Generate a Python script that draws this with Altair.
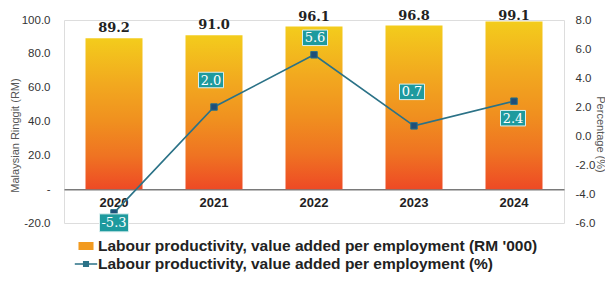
import altair as alt
import pandas as pd

# ---- data ----
years = ["2020", "2021", "2022", "2023", "2024"]
rm_values = [89.2, 91.0, 96.1, 96.8, 99.1]          # RM '000
pct_values = [-5.3, 2.0, 5.6, 0.7, 2.4]             # %
series_bar = "Labour productivity, value added per employment (RM '000)"
series_line = "Labour productivity, value added per employment (%)"

df = pd.DataFrame({
    "year": years,
    "rm": rm_values,
    "pct": pct_values,
})
df["rm_label"] = [f"{v:.1f}" for v in df["rm"]]
df["pct_label"] = [f"{v:.1f}" for v in df["pct"]]

legend_df = pd.DataFrame({"series": [series_bar, series_line]})

# ---- styles ----
SANS = "Liberation Sans"
SERIF = "DejaVu Serif"
TEAL_LINE = "#2B7287"
NAVY = "#1F4E79"
BOX = "#1E9A9E"

# label placement style, per year
box_dy = {"2020": 10, "2021": -27, "2022": -17, "2023": -34, "2024": 17}
box_dx = {"2020": 0, "2021": -3, "2022": 1, "2023": -2, "2024": -1}
top_dy = {"2020": -6, "2021": -6, "2022": -6, "2023": -5.5, "2024": -2}

W, H = 500, 203

x_enc = alt.X(
    "year:N", sort=years,
    scale=alt.Scale(paddingInner=0.43, paddingOuter=0.215),
    axis=alt.Axis(title=None, offset=-33.8, domainColor="#7a7a7a", domainWidth=1.6,
                  ticks=False, labelAngle=0, labelFont=SANS, labelFontSize=13,
                  labelFontWeight="bold", labelColor="#222222", labelPadding=7),
)

yl_enc = alt.Y(
    "rm:Q", scale=alt.Scale(domain=[-20, 100], nice=False, zero=False),
    axis=alt.Axis(title="Malaysian Ringgit (RM)", values=[-20, 0, 20, 40, 60, 80, 100],
                  labelExpr="datum.value == 0 ? '-' : (datum.value < 0 ? '-' : '') + format(abs(datum.value), '.1f')",
                  domain=False, ticks=False, grid=False, labelPadding=14,
                  labelFont=SANS, labelFontSize=11.5, labelColor="#333333",
                  titleFont=SANS, titleFontSize=11, titleFontWeight="normal",
                  titleColor="#555555", titleX=-49, titleY=115,
                  titleAlign="center", titleBaseline="middle", titleAngle=-90),
)

yr_enc = alt.Y(
    "pct:Q", scale=alt.Scale(domain=[-6, 8], nice=False, zero=False),
    axis=alt.Axis(title="Percentage (%)", orient="right", values=[-6, -4, -2, 0, 2, 4, 6, 8],
                  labelExpr="(datum.value < 0 ? '-' : '') + format(abs(datum.value), '.1f')",
                  domain=False, ticks=False, grid=False, labelPadding=11,
                  labelFont=SANS, labelFontSize=11.5, labelColor="#333333",
                  titleFont=SANS, titleFontSize=11, titleFontWeight="normal",
                  titleColor="#555555", titleX=35, titleY=114,
                  titleAlign="center", titleBaseline="middle", titleAngle=90),
)

base = alt.Chart(df)

gradient = alt.Gradient(
    gradient="linear", x1=0, x2=0, y1=0, y2=1,
    stops=[
        alt.GradientStop(color="#F3CC1C", offset=0.0),
        alt.GradientStop(color="#F2A91F", offset=0.3),
        alt.GradientStop(color="#F0901F", offset=0.55),
        alt.GradientStop(color="#EF7322", offset=0.78),
        alt.GradientStop(color="#EE4A25", offset=1.0),
    ],
)

left_layers = [base.mark_bar(color=gradient).encode(x=x_enc, y=yl_enc)]
for yr in years:
    left_layers.append(
        base.transform_filter(alt.datum.year == yr).mark_text(
            font=SERIF, fontSize=13, fontWeight="bold", color="#222222",
            baseline="alphabetic", dy=top_dy[yr],
        ).encode(x=x_enc, y=yl_enc, text="rm_label:N")
    )
left = alt.layer(*left_layers)

line = base.mark_line(color=TEAL_LINE, strokeWidth=1.6).encode(x=x_enc, y=yr_enc)

markers = base.mark_point(shape="square", filled=True, fill=NAVY, stroke=TEAL_LINE,
                          strokeWidth=1, size=42, opacity=1).encode(x=x_enc, y=yr_enc)

right_layers = [line, markers]
for yr, lab in zip(years, df["pct_label"]):
    bw = 25 if len(lab) <= 3 else 29
    box = base.transform_filter(alt.datum.year == yr).mark_point(
        shape="M-1,-0.62H1V0.62H-1Z", filled=True, fill=BOX, stroke="#d9efef",
        strokeWidth=1, size=bw * bw, opacity=1,
        yOffset=box_dy[yr], xOffset=box_dx[yr],
    ).encode(x=x_enc, y=yr_enc)
    txt = base.transform_filter(alt.datum.year == yr).mark_text(
        font=SERIF, fontSize=13, color="white", baseline="middle",
        yOffset=box_dy[yr] + 0.5, xOffset=box_dx[yr],
    ).encode(x=x_enc, y=yr_enc, text="pct_label:N")
    right_layers += [box, txt]

right = alt.layer(*right_layers)

legend_layer = alt.Chart(legend_df).transform_filter("false").mark_point(
    filled=True, opacity=1).encode(
    color=alt.Color("series:N",
                    scale=alt.Scale(domain=[series_bar, series_line],
                                    range=["#F29A1F", TEAL_LINE]),
                    legend=alt.Legend(title=None, orient="none", legendX=14, legendY=218,
                                      direction="vertical", symbolSize=256,
                                      labelFont=SANS, labelFontSize=15.5,
                                      labelFontWeight="bold", labelColor="#222222",
                                      labelLimit=0, labelOffset=4, rowPadding=1,
                                      padding=0, symbolStrokeWidth=0)),
    shape=alt.Shape("series:N",
                    scale=alt.Scale(domain=[series_bar, series_line],
                                    range=["M-0.94,-0.5H0.94V0.5H-0.94Z",
                                           "M-1.4,-0.1H1.4V0.1H-1.4Z M-0.38,-0.38H0.38V0.38H-0.38Z"]),
                    legend=alt.Legend(title=None, orient="none", legendX=14, legendY=218)),
)

chart = alt.layer(left, right, legend_layer).resolve_scale(y="independent").properties(
    width=W, height=H,
    autosize=alt.AutoSizeParams(type="none"),
    padding={"left": 56, "top": 12, "right": 41, "bottom": 51},
).configure_view(stroke=None).configure(background="white")

chart.save("out.html", embed_options={"renderer": "svg", "actions": False})
